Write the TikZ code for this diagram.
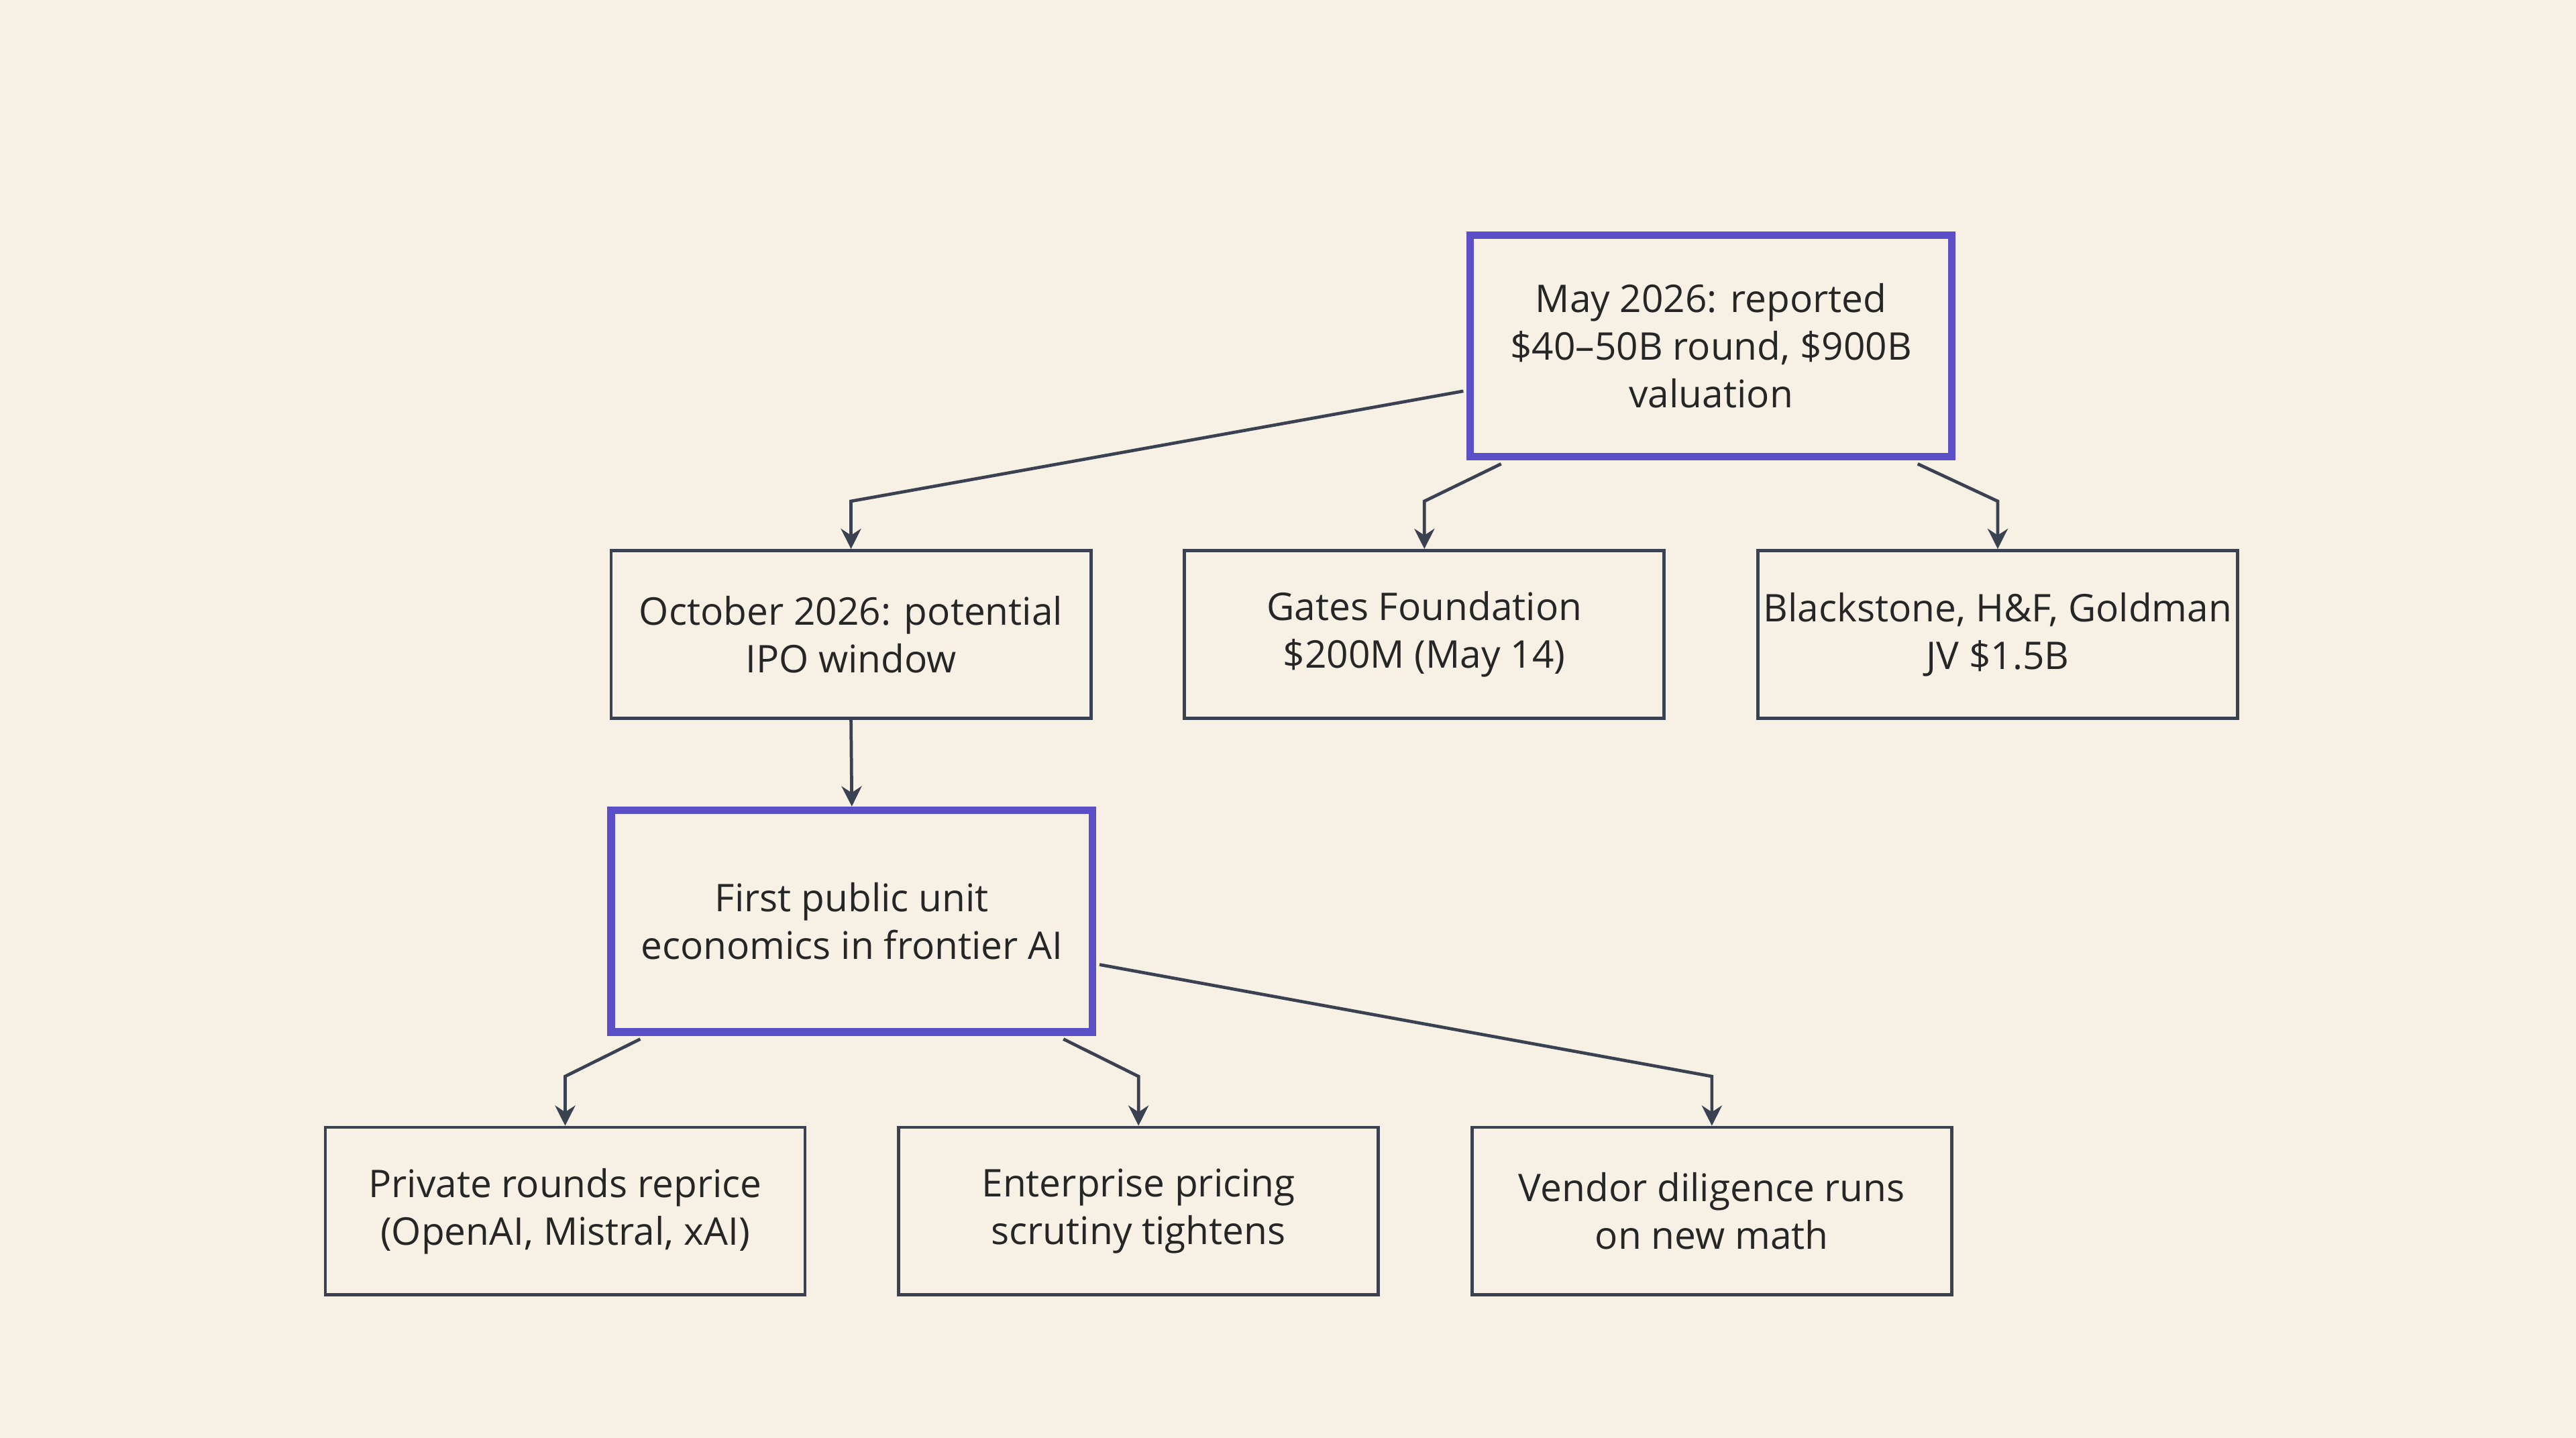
\documentclass[tikz,border=0pt]{standalone}
\usepackage{fontspec}
\setmainfont{Open Sans}
\usetikzlibrary{calc,arrows.meta}
\definecolor{bg}{HTML}{F6F0E5}
\definecolor{ln}{HTML}{3A4150}
\definecolor{hb}{HTML}{5A4FC6}
\begin{document}
\begin{tikzpicture}[x=0.02cm,y=-0.02cm,
 box/.style={draw=ln,line width=1.1pt,fill=bg,minimum width=292*0.02cm,minimum height=102*0.02cm,align=center,font=\fontsize{13.2}{16.5}\selectfont,text=black!85,inner sep=0pt},
 hbox/.style={box,draw=hb,line width=2.6pt,minimum height=135*0.02cm},
 con/.style={draw=ln,line width=1.1pt,-{Stealth[length=7pt,width=7pt]}}]
\fill[bg] (0,0) rectangle (1568,875);
\useasboundingbox (0,0) rectangle (1568,875);
\node[hbox,minimum width=293*0.02cm] (top) at (1041.5,210.5) {May 2026: reported\\\$40–50B round, \$900B\\valuation};
\node[box] (a) at (518,386) {October 2026: potential\\IPO window};
\node[box] (b) at (867,386) {Gates Foundation\\\$200M (May 14)};
\node[box] (c) at (1216,386) {Blackstone, H\&F, Goldman\\JV \$1.5B};
\node[hbox,minimum width=293*0.02cm] (mid) at (518.5,560.5) {First public unit\\economics in frontier AI};
\node[box] (p) at (344,737) {Private rounds reprice\\(OpenAI, Mistral, xAI)};
\node[box] (e) at (693,737) {Enterprise pricing\\scrutiny tightens};
\node[box] (v) at (1042,737) {Vendor diligence runs\\on new math};
\draw[con] ($(top.west)+(-2,27.5)$) -- (518,305) -- (a.north);
\draw[con] ($(top.south west)+(21,2)$) -- (867,305) -- (b.north);
\draw[con] ($(top.south east)+(-23,2)$) -- (1216,305) -- (c.north);
\draw[con] (a.south) -- (mid.north);
\draw[con] ($(mid.south west)+(20,2)$) -- (344,655) -- (p.north);
\draw[con] ($(mid.south east)+(-20,2)$) -- (693,655) -- (e.north);
\draw[con] ($(mid.east)+(2,26.5)$) -- (1042,655) -- (v.north);
\end{tikzpicture}
\end{document}
